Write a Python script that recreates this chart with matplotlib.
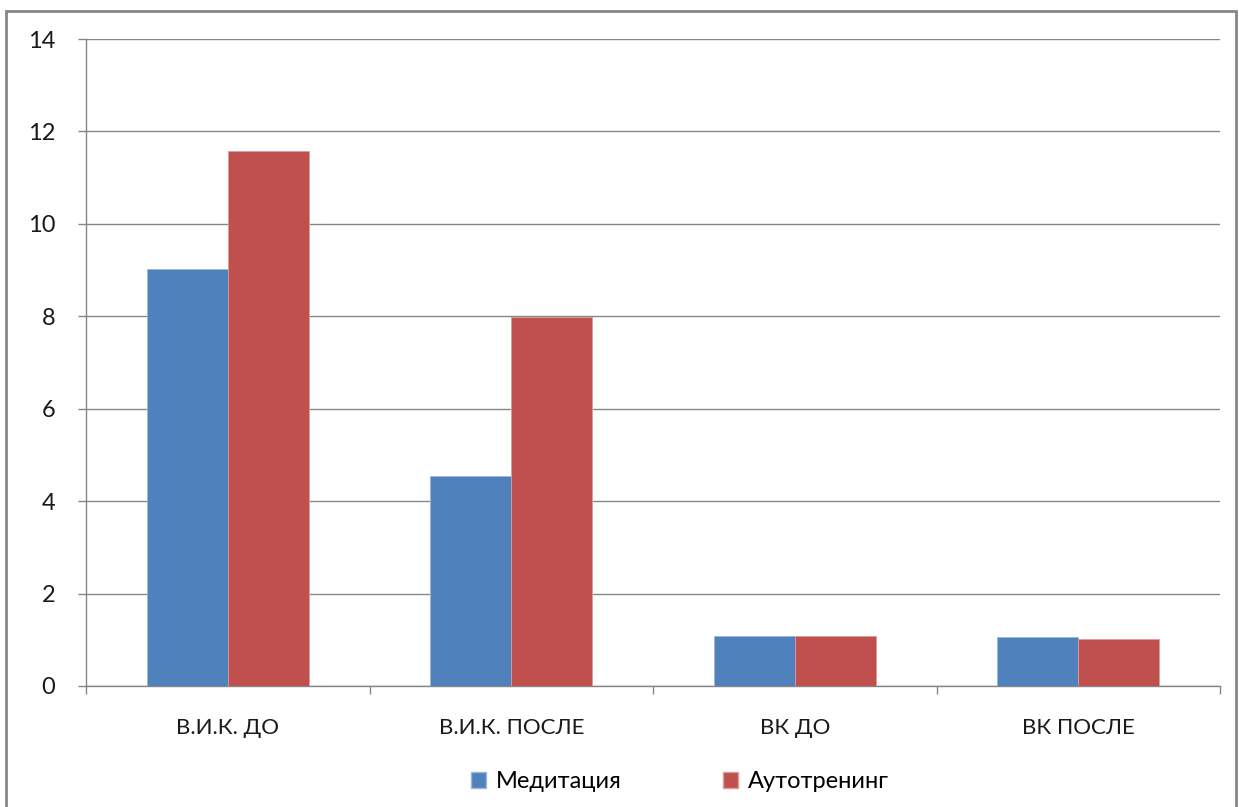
import matplotlib.pyplot as plt
from matplotlib.patches import Rectangle, Patch
import numpy as np

plt.rcParams['font.family'] = ['Lato', 'DejaVu Sans']

categories = ['В.И.К. ДО', 'В.И.К. ПОСЛЕ', 'ВК ДО', 'ВК ПОСЛЕ']
meditation = [9.03, 4.55, 1.08, 1.06]
autotraining = [11.58, 7.99, 1.08, 1.02]
series_names = ['Медитация', 'Аутотренинг']
y_ticks = [0, 2, 4, 6, 8, 10, 12, 14]

blue = '#4f81bd'
red = '#c0504d'

fig = plt.figure(figsize=(12.39, 8.07), dpi=100)
ax = fig.add_axes([86 / 1239, 1 - 686 / 807, (1220 - 86) / 1239, (686 - 39) / 807])

# рамка вокруг диаграммы
fig.patches.append(Rectangle((6 / 1239, -0.01), (1236 - 6) / 1239, 1 - 11 / 807 + 0.01,
                             transform=fig.transFigure, fill=False,
                             edgecolor='#868686', linewidth=2))

x = np.arange(len(categories)) + 0.5
w = 0.286
ax.bar(x - w / 2, meditation, w, color=blue, edgecolor='#9bb7d9', linewidth=0.6, zorder=3)
ax.bar(x + w / 2, autotraining, w, color=red, edgecolor='#dc9b99', linewidth=0.6, zorder=3)

ax.set_xlim(0, len(categories))
ax.set_ylim(0, 14)
ax.set_yticks(y_ticks)
ax.set_yticklabels([str(v) for v in y_ticks], fontsize=17, color='#1a1a1a')
ax.yaxis.grid(True, color='#868686', linewidth=1)
ax.set_axisbelow(True)

ax.set_xticks(np.arange(len(categories) + 1))
ax.set_xticklabels([])
ax.set_xticks(x, minor=True)
ax.set_xticklabels(categories, minor=True, fontsize=16, color='#1a1a1a')
ax.tick_params(axis='x', which='minor', length=0, pad=23)
ax.tick_params(axis='x', which='major', length=6, color='#868686', width=1)
ax.tick_params(axis='y', length=6, color='#868686', width=1, pad=16)

for side in ['top', 'right']:
    ax.spines[side].set_visible(False)
for side in ['left', 'bottom']:
    ax.spines[side].set_color('#868686')
    ax.spines[side].set_linewidth(1)

handles = [Patch(facecolor=blue, edgecolor='#9bb7d9'), Patch(facecolor=red, edgecolor='#dc9b99')]
fig.legend(handles, series_names, loc='center', bbox_to_anchor=(680 / 1239, 1 - 782 / 807),
           ncol=2, frameon=False, fontsize=17, handlelength=0.65, handleheight=0.65,
           handletextpad=0.4, columnspacing=4.3)

fig.savefig('out.png', dpi=100)
